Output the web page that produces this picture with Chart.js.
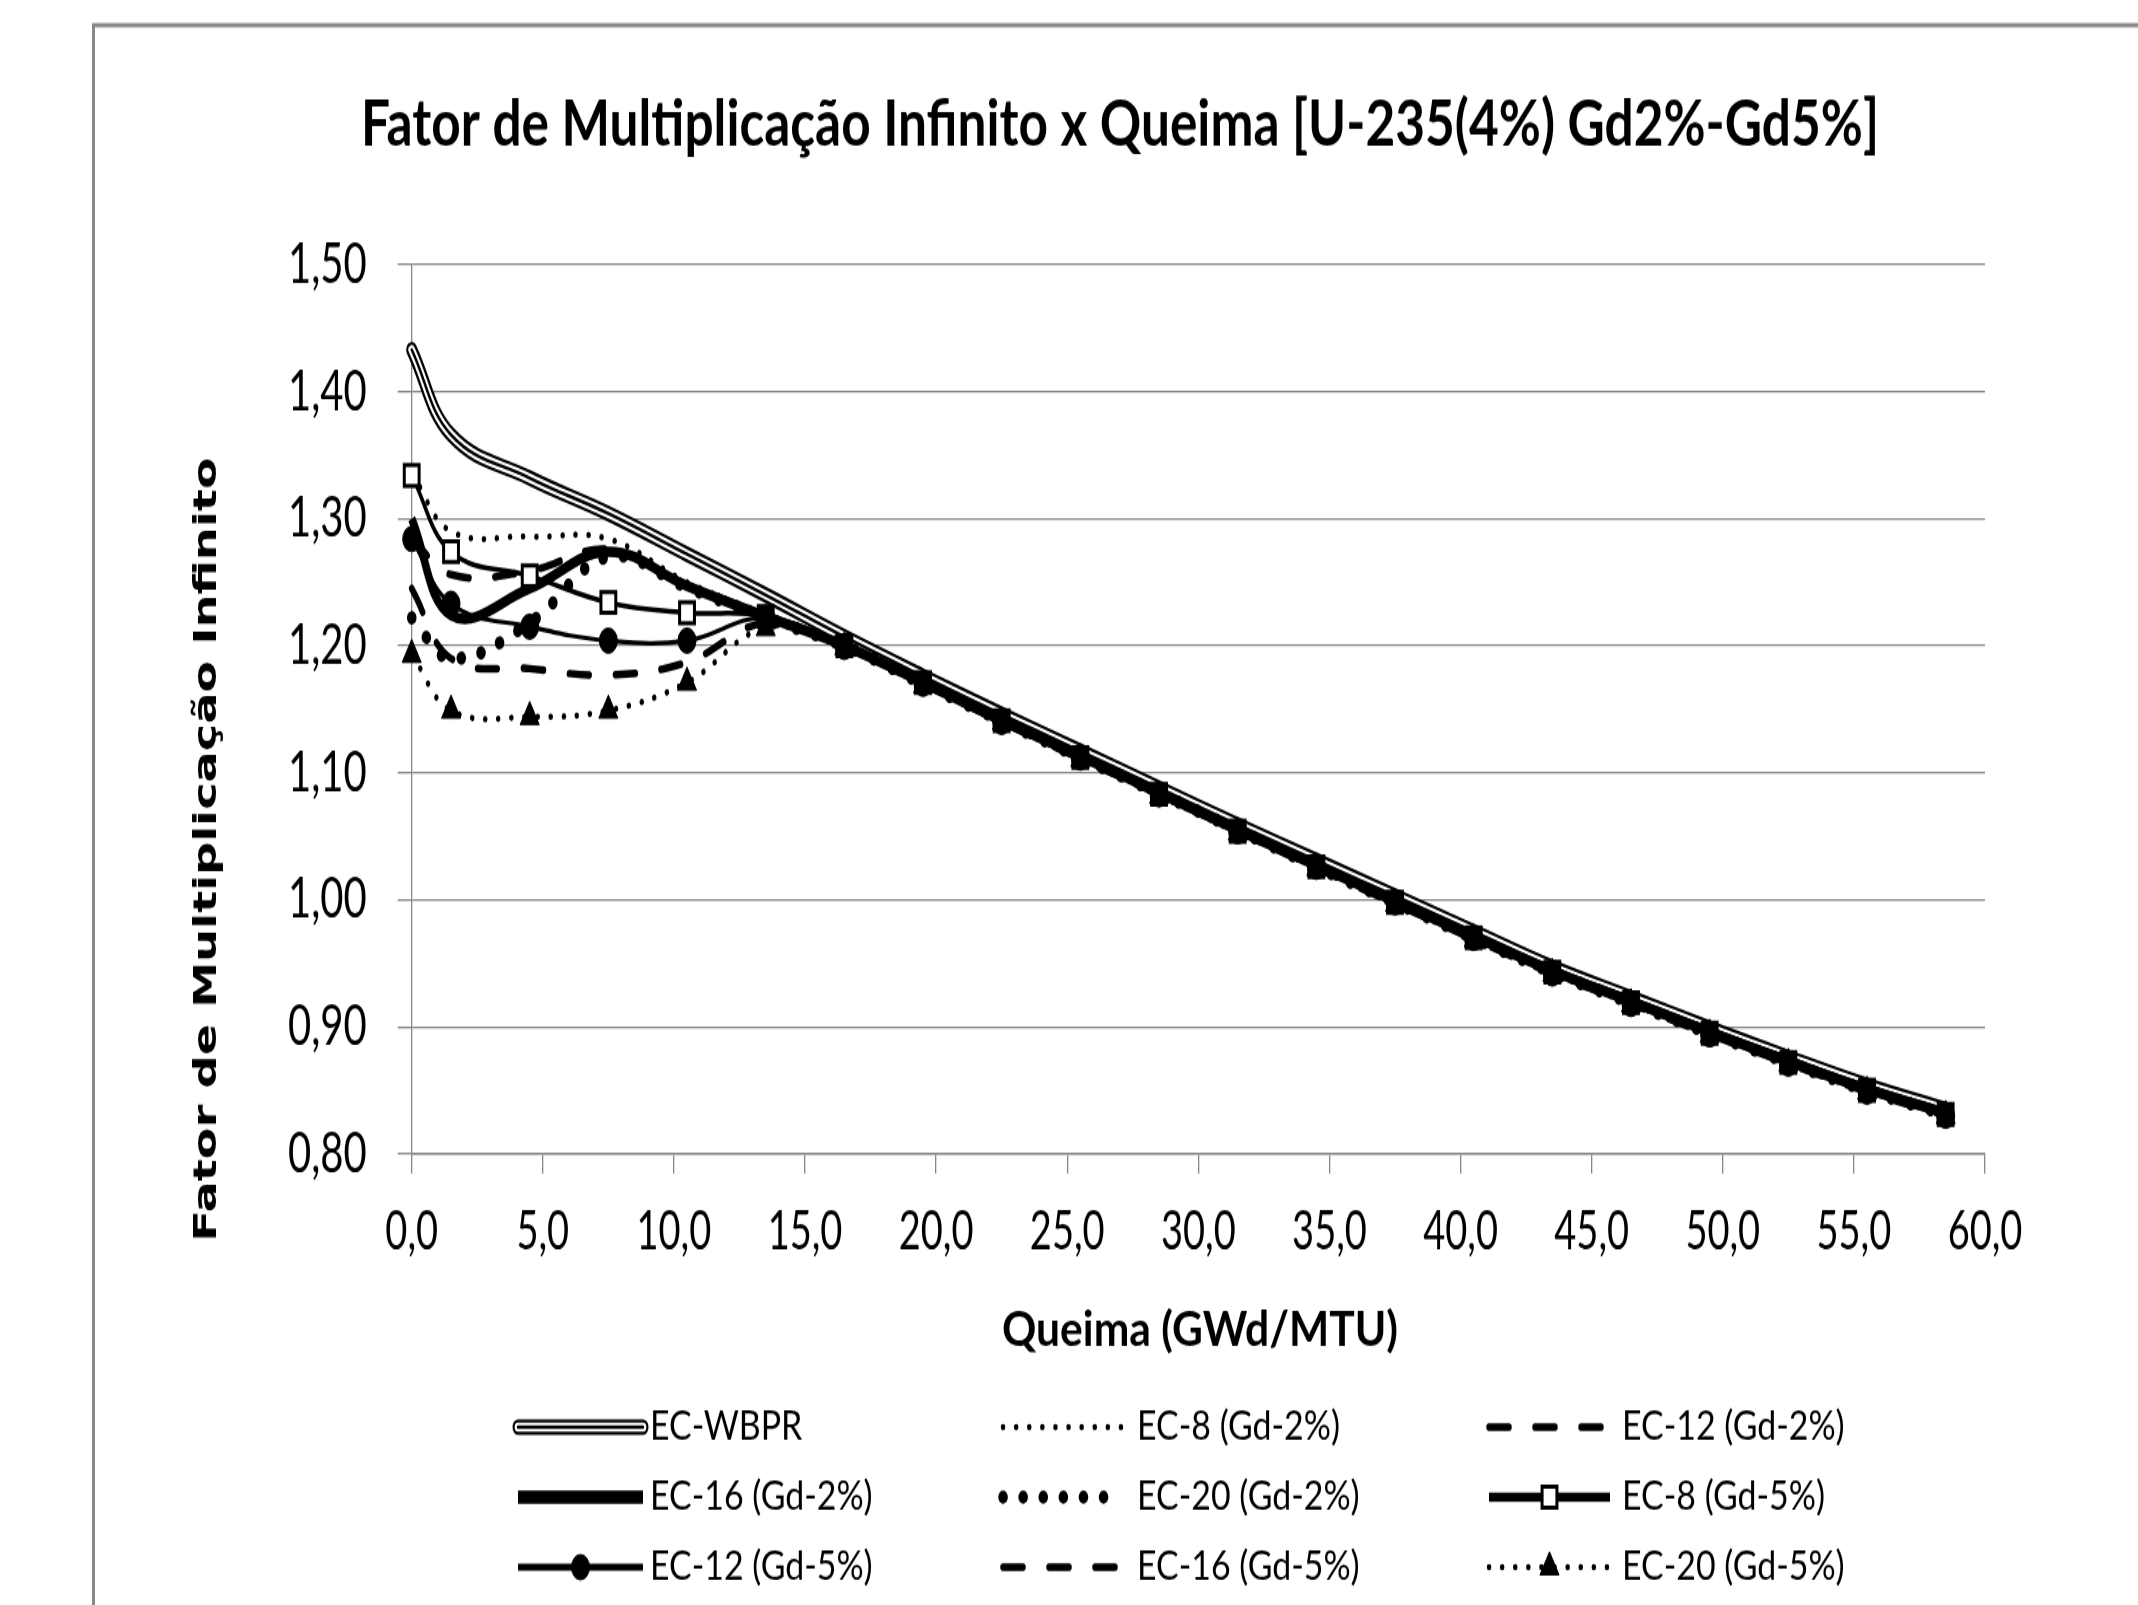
<!DOCTYPE html>
<html>
<head>
<meta charset="utf-8">
<script src="https://cdn.jsdelivr.net/npm/chart.js@4.4.0/dist/chart.umd.min.js"></script>
<style>
  html { margin: 0; padding: 0; background: #fff; overflow: hidden; }
  body { margin: 0; padding: 0; background: #fff; width: 2138px; height: 1605px; }
  /* the source picture is stretched vertically, so the chart is drawn flat and stretched the same way */
  #wrap { width: 2138px; height: 1146px; transform: scale(1, 1.4005); transform-origin: 0 0; }
  canvas { display: block; }
</style>
</head>
<body>
<div id="wrap"><canvas id="chart" width="2138" height="1146"></canvas></div>
<script>
// burnup steps (GWd/MTU)
const burnup = [0, 1.5, 4.5, 7.5, 10.5, 13.5, 16.5, 19.5, 22.5, 25.5, 28.5, 31.5, 34.5, 37.5, 40.5, 43.5, 46.5, 49.5, 52.5, 55.5, 58.5];

// k-infinity per case
const ecWbpr  = [1.433, 1.366, 1.332, 1.304, 1.272, 1.240, 1.207, 1.176, 1.146, 1.117, 1.088, 1.059, 1.031, 1.003, 0.975, 0.947, 0.923, 0.899, 0.876, 0.854, 0.835];
const ec8Gd2  = [1.336, 1.290, 1.286, 1.284, 1.250, 1.225, 1.201, 1.172, 1.142, 1.114, 1.085, 1.056, 1.028, 1.000, 0.972, 0.945, 0.921, 0.897, 0.874, 0.852, 0.833];
const ec12Gd2 = [1.285, 1.256, 1.259, 1.276, 1.248, 1.224, 1.201, 1.171, 1.142, 1.113, 1.085, 1.056, 1.028, 0.999, 0.971, 0.944, 0.920, 0.896, 0.873, 0.851, 0.832];
const ec16Gd2 = [1.300, 1.224, 1.245, 1.274, 1.247, 1.223, 1.200, 1.171, 1.141, 1.113, 1.084, 1.055, 1.027, 0.999, 0.971, 0.944, 0.920, 0.896, 0.873, 0.851, 0.832];
const ec20Gd2 = [1.222, 1.190, 1.218, 1.270, 1.246, 1.222, 1.200, 1.170, 1.141, 1.112, 1.084, 1.055, 1.026, 0.998, 0.970, 0.943, 0.919, 0.895, 0.872, 0.850, 0.831];
const ec8Gd5  = [1.334, 1.274, 1.255, 1.234, 1.226, 1.223, 1.200, 1.171, 1.141, 1.112, 1.083, 1.054, 1.026, 0.998, 0.970, 0.943, 0.919, 0.895, 0.872, 0.850, 0.831];
const ec12Gd5 = [1.284, 1.233, 1.215, 1.204, 1.204, 1.222, 1.199, 1.170, 1.140, 1.112, 1.083, 1.054, 1.026, 0.998, 0.970, 0.942, 0.918, 0.894, 0.871, 0.849, 0.830];
const ec16Gd5 = [1.245, 1.190, 1.182, 1.177, 1.187, 1.218, 1.199, 1.170, 1.140, 1.111, 1.083, 1.054, 1.025, 0.997, 0.969, 0.942, 0.918, 0.894, 0.871, 0.849, 0.830];
const ec20Gd5 = [1.193, 1.149, 1.144, 1.149, 1.171, 1.214, 1.199, 1.169, 1.140, 1.111, 1.082, 1.053, 1.025, 0.997, 0.969, 0.942, 0.918, 0.894, 0.871, 0.849, 0.830];

const labels = ["EC-WBPR", "EC-8 (Gd-2%)", "EC-12 (Gd-2%)", "EC-16 (Gd-2%)", "EC-20 (Gd-2%)",
                "EC-8 (Gd-5%)", "EC-12 (Gd-5%)", "EC-16 (Gd-5%)", "EC-20 (Gd-5%)"];

const chartTitle = "Fator de Multiplicação Infinito x Queima [U-235(4%) Gd2%-Gd5%]";
const xTitle = "Queima (GWd/MTU)";
const yTitle = "Fator de Multiplicação Infinito";

const H = 1146;
const AREA_BOTTOM = 823.9;

function series(values) {
    return burnup.map((x, i) => ({ x: x, y: values[i] }));
}

const noPoint = { pointRadius: 0, pointHoverRadius: 0 };
const dots = (w, gap) => ({ borderWidth: w, borderDash: [0.1, gap], borderCapStyle: "round" });
const dashes = w => ({ borderWidth: w, borderDash: [20, 26], borderCapStyle: "round" });

const datasets = [
    // EC-WBPR is a compound line: black, white, thin black
    Object.assign({ label: labels[0], data: series(ecWbpr), borderWidth: 11, borderCapStyle: "round", order: 12, legend: 0 }, noPoint),
    Object.assign({ label: "", data: series(ecWbpr), borderColor: "#fff", borderWidth: 6.6, borderCapStyle: "round", order: 11, legend: 0 }, noPoint),
    Object.assign({ label: "", data: series(ecWbpr), borderWidth: 2.4, borderCapStyle: "round", order: 10, legend: 0 }, noPoint),
    Object.assign({ label: labels[1], data: series(ec8Gd2), order: 9, legend: 1 }, dots(4.5, 13), noPoint),
    Object.assign({ label: labels[2], data: series(ec12Gd2), order: 8, legend: 2 }, dashes(5.5), noPoint),
    Object.assign({ label: labels[3], data: series(ec16Gd2), borderWidth: 7.5, legendWidth: 9.5, order: 7, legend: 3 }, noPoint),
    Object.assign({ label: labels[4], data: series(ec20Gd2), order: 6, legend: 4 }, dots(9.5, 20), noPoint),
    { label: labels[5], data: series(ec8Gd5), borderWidth: 3.5, legendWidth: 6.5, order: 5, legend: 5,
      pointStyle: "rect", pointRadius: 10.5, pointHoverRadius: 10.5, pointBackgroundColor: "#fff", pointBorderColor: "#000", pointBorderWidth: 3 },
    { label: labels[6], data: series(ec12Gd5), borderWidth: 3.2, legendWidth: 5, order: 4, legend: 6,
      pointStyle: "circle", pointRadius: 9, pointHoverRadius: 9, pointBackgroundColor: "#000", pointBorderColor: "#000", pointBorderWidth: 1 },
    Object.assign({ label: labels[7], data: series(ec16Gd5), order: 3, legend: 7 }, dashes(5.5), noPoint),
    Object.assign({ label: labels[8], data: series(ec20Gd5), order: 2, legend: 8,
      pointStyle: "triangle", pointRadius: 11, pointHoverRadius: 11, pointBackgroundColor: "#000", pointBorderColor: "#000", pointBorderWidth: 1 }, dots(4.5, 13))
];
datasets.forEach(ds => {
    if (!ds.borderColor) ds.borderColor = "#000";
    ds.fill = false;
    ds.clip = false;
    ds.borderJoinStyle = "round";
});

// text squeezed or widened to the width it has in the picture
function fitText(ctx, text, x, y, width, align) {
    const w = ctx.measureText(text).width;
    ctx.save();
    ctx.translate(x, y);
    ctx.scale(width / w, 1);
    ctx.textAlign = align;
    ctx.fillText(text, 0, 0);
    ctx.restore();
}

function sampleLine(ctx, ds, x1, x2, y) {
    ctx.save();
    ctx.strokeStyle = ds.borderColor;
    ctx.lineWidth = ds.legendWidth || ds.borderWidth;
    ctx.setLineDash(ds.borderDash || []);
    ctx.lineCap = ds.borderCapStyle || "butt";
    ctx.beginPath();
    ctx.moveTo(x1, y);
    ctx.lineTo(x2, y);
    ctx.stroke();
    ctx.restore();
}

const decor = {
    id: "decor",
    beforeDraw(chart) {
        const ctx = chart.ctx;
        ctx.save();
        ctx.fillStyle = "#fff";
        ctx.fillRect(0, 0, chart.width, chart.height);
        ctx.strokeStyle = "#888";
        ctx.lineWidth = 3;
        ctx.strokeRect(93.5, 18, 2400, 2000);
        ctx.restore();
    },
    afterDraw(chart) {
        const ctx = chart.ctx;
        ctx.save();
        ctx.fillStyle = "#000";
        ctx.textBaseline = "alphabetic";

        ctx.font = "bold 45px Lato";
        fitText(ctx, chartTitle, 1120, 103.6, 1518, "center");

        ctx.font = "bold 35px Lato";
        fitText(ctx, xTitle, 1200, 961, 396, "center");

        ctx.save();
        ctx.translate(208, 606.5);
        ctx.rotate(-Math.PI / 2);
        ctx.font = "bold 32px 'DejaVu Sans'";
        ctx.textBaseline = "middle";
        fitText(ctx, yTitle, 0, 0, 560, "center");
        ctx.restore();

        // legend, 3 x 3 grid
        const cols = [[518, 643, 650], [1003, 1122, 1137], [1489, 1610, 1622]];
        const rows = [1019, 1069, 1119];
        ctx.font = "29px Lato";
        ctx.textBaseline = "middle";
        const sx = 203 / ctx.measureText("EC-8 (Gd-2%)").width;
        labels.forEach((label, k) => {
            const [x1, x2, tx] = cols[k % 3];
            const y = rows[Math.floor(k / 3)];
            const group = chart.data.datasets.filter(ds => ds.legend === k);
            group.forEach(ds => sampleLine(ctx, ds, x1, x2, y));
            const ds = group[0];
            if (ds.pointRadius > 0) {
                ctx.save();
                ctx.setLineDash([]);
                ctx.fillStyle = ds.pointBackgroundColor;
                ctx.strokeStyle = ds.pointBorderColor;
                ctx.lineWidth = ds.pointBorderWidth;
                Chart.helpers.drawPoint(ctx, { pointStyle: ds.pointStyle, radius: ds.pointRadius, borderWidth: ds.pointBorderWidth, rotation: 0 }, (x1 + x2) / 2, y);
                ctx.restore();
            }
            ctx.save();
            ctx.translate(tx, y);
            ctx.scale(sx, 1);
            ctx.fillStyle = "#000";
            ctx.textAlign = "left";
            ctx.fillText(label, 0, 0);
            ctx.restore();
        });
        ctx.restore();
    }
};

const canvas = document.getElementById("chart");
const chart = new Chart(canvas, {
    type: "line",
    data: { datasets: datasets },
    plugins: [decor],
    options: {
        responsive: false,
        animation: false,
        events: [],
        devicePixelRatio: 1,
        elements: { line: { tension: 0.4 } },
        layout: { padding: { top: 188.9, right: 153, bottom: 0, left: 0 } },
        plugins: {
            legend: { display: false },
            title: { display: false },
            tooltip: { enabled: false }
        },
        scales: {
            x: {
                type: "linear",
                min: 0,
                max: 60,
                ticks: {
                    stepSize: 5,
                    maxRotation: 0,
                    color: "#000",
                    padding: 19,
                    font: { family: "Lato", size: 38 },
                    callback: v => v.toFixed(1).replace(".", ",")
                },
                grid: { drawOnChartArea: false, drawTicks: true, tickLength: 14, color: "#878787", lineWidth: 1.3 },
                border: { display: true, color: "#878787", width: 1.5 },
                afterFit: scale => { scale.height = H - AREA_BOTTOM; }
            },
            y: {
                type: "linear",
                min: 0.8,
                max: 1.5,
                ticks: {
                    stepSize: 0.1,
                    color: "#000",
                    padding: 31,
                    font: { family: "Lato", size: 40 },
                    callback: v => v.toFixed(2).replace(".", ",")
                },
                grid: { color: "#878787", lineWidth: 1.3, tickLength: 14 },
                border: { display: true, color: "#878787", width: 1.3 },
                afterFit: scale => { scale.width = 411.7; }
            }
        }
    }
});
</script>
</body>
</html>
